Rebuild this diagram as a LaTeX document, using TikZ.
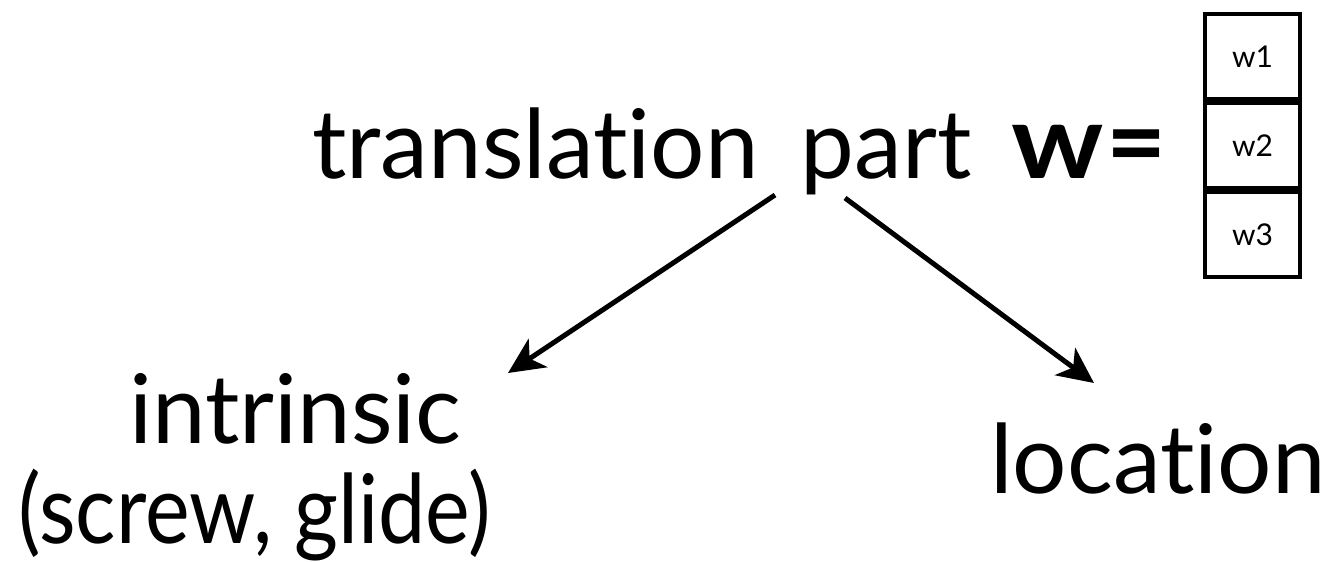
\documentclass[tikz,border=0pt]{standalone}
\usepackage{fontspec}
\setmainfont{Lato}[Ligatures={NoCommon}]
\usetikzlibrary{arrows.meta}
\tikzset{
  big/.style={inner sep=0pt, font=\fontsize{96}{115}\selectfont},
  cell/.style={draw, line width=4pt, minimum width=95pt, minimum height=85pt, inner sep=0pt, font=\fontsize{30}{36}\selectfont},
  arr/.style={line width=5pt, -{Stealth[length=36pt,width=34pt,inset=10pt]}}
}
\begin{document}
\begin{tikzpicture}[x=1pt,y=-1pt]
\useasboundingbox (0,0) rectangle (1331,562);
\node[big, anchor=base west] (top) at (312,178) {translation\hspace{42pt}part\hspace{40pt}\scalebox{1.2}[1.08]{\textbf{w}}\hspace{2pt}\scalebox{1.08}{\textbf{=}}};
\node[big, anchor=base] (intr) at (295.5,443) {intrinsic};
\node[big, anchor=base] (screw) at (254.5,543) {\scalebox{0.88}[1]{(screw, glide)}};
\node[big, anchor=base west] (loc) at (990,493) {location};
\node[cell] (w1) at (1252.5,56.5) {w1};
\node[cell, anchor=north] (w2) at (w1.south) {w2};
\node[cell, anchor=north] (w3) at (w2.south) {w3};
\coordinate (s1) at (775,195);
\coordinate (e1) at (508,373);
\coordinate (s2) at (845,198);
\coordinate (e2) at (1094,383);
\draw[arr] (s1) -- (e1);
\draw[arr] (s2) -- (e2);
\end{tikzpicture}
\end{document}
